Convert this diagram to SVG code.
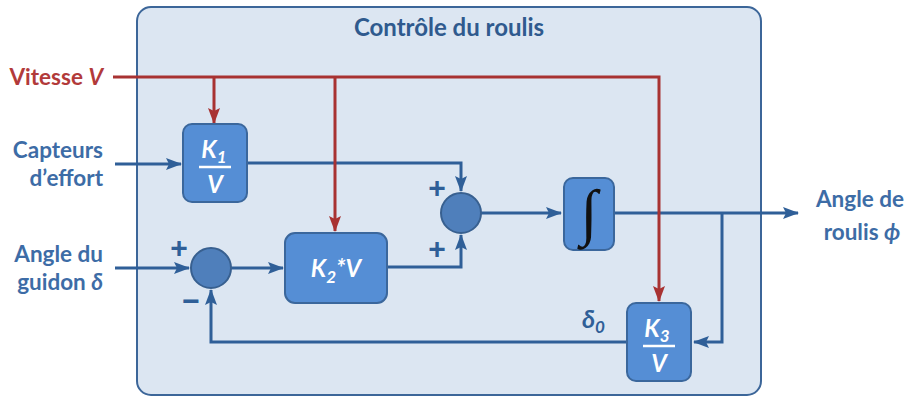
<svg xmlns="http://www.w3.org/2000/svg" width="909" height="400" viewBox="0 0 909 400">
<defs>
<style>
.lbl{font-family:Lato,"Open Sans","Liberation Sans",sans-serif;font-weight:bold;font-size:22.5px;fill:#3d6ca6}
.red{fill:#b23a3a}
.box{fill:#558ed5;stroke:#3b679c;stroke-width:2}
.sum{fill:#4f7fbb;stroke:#386090;stroke-width:2}
.bt{font-family:Lato,"Open Sans","Liberation Sans",sans-serif;font-weight:bold;font-style:italic;font-size:24px;fill:#ffffff}
.sign{font-family:"Liberation Sans",sans-serif;font-weight:bold;font-size:30px;fill:#2f5f98}
.bl{fill:none;stroke:#2f5f98;stroke-width:3}
.rl{fill:none;stroke:#a83232;stroke-width:3}
</style>
<marker id="ab" markerUnits="userSpaceOnUse" markerWidth="16" markerHeight="16" viewBox="0 0 16 16" refX="15" refY="8" orient="auto"><path d="M0,2 L16,8 L0,14 L3,8 Z" fill="#2f5f98"/></marker>
<marker id="ar" markerUnits="userSpaceOnUse" markerWidth="16" markerHeight="16" viewBox="0 0 16 16" refX="15" refY="8" orient="auto"><path d="M0,2 L16,8 L0,14 L3,8 Z" fill="#a83232"/></marker>
</defs>
<rect width="909" height="400" fill="#ffffff"/>
<g id="container">
<rect x="137" y="7" width="624" height="388" rx="14" fill="#dce6f2" stroke="#3c6699" stroke-width="2"/>
<text x="449" y="36" text-anchor="middle" class="lbl" style="fill:#2f5a8e;font-size:24px">Contrôle du roulis</text>
</g>
<g id="inputs">
<text x="103" y="85" text-anchor="end" class="lbl red">Vitesse <tspan font-style="italic">V</tspan></text>
<text x="103" y="158" text-anchor="end" class="lbl">Capteurs</text>
<text x="103" y="186" text-anchor="end" class="lbl">d’effort</text>
<text x="103" y="262" text-anchor="end" class="lbl">Angle du</text>
<text x="103" y="290" text-anchor="end" class="lbl">guidon <tspan font-style="italic">δ</tspan></text>
<text x="860" y="207" text-anchor="middle" class="lbl">Angle de</text>
<text x="862" y="240" text-anchor="middle" class="lbl">roulis <tspan font-style="italic">ϕ</tspan></text>
</g>
<g id="connectors">
<path class="bl" d="M115 164 H181" marker-end="url(#ab)"/>
<path class="bl" d="M247 163 H461 V191" marker-end="url(#ab)"/>
<path class="bl" d="M115 268 H189" marker-end="url(#ab)"/>
<path class="bl" d="M231 268 H283" marker-end="url(#ab)"/>
<path class="bl" d="M387 267 H461 V235" marker-end="url(#ab)"/>
<path class="bl" d="M481 213 H561" marker-end="url(#ab)"/>
<path class="bl" d="M614 213 H798" marker-end="url(#ab)"/>
<path class="bl" d="M722 213 V342 H694" marker-end="url(#ab)"/>
<path class="bl" d="M627 342 H211 V290" marker-end="url(#ab)"/>
<path class="rl" d="M113 77 H659 V301" marker-end="url(#ar)"/>
<path class="rl" d="M214 77 V123" marker-end="url(#ar)"/>
<path class="rl" d="M335 77 V231" marker-end="url(#ar)"/>
</g>
<g id="k1">
<rect class="box" x="183" y="124" width="64" height="78" rx="9"/>
<text x="214" y="158" text-anchor="middle" class="bt">K<tspan font-size="17" dy="5">1</tspan></text>
<line x1="199" y1="167" x2="231" y2="167" stroke="#ffffff" stroke-width="2.5"/>
<text x="215" y="193" text-anchor="middle" class="bt">V</text>
</g>
<g id="sum1">
<circle class="sum" cx="211" cy="268" r="20"/>
<text x="179" y="258" text-anchor="middle" class="sign">+</text>
<text x="191" y="311" text-anchor="middle" class="sign">−</text>
</g>
<g id="k2">
<rect class="box" x="285" y="233" width="102" height="70" rx="10"/>
<text x="336" y="277" text-anchor="middle" class="bt">K<tspan font-size="17" dy="6">2</tspan><tspan dy="-6">*V</tspan></text>
</g>
<g id="sum2">
<circle class="sum" cx="461" cy="213" r="20"/>
<text x="437" y="198" text-anchor="middle" class="sign">+</text>
<text x="437" y="259" text-anchor="middle" class="sign">+</text>
</g>
<g id="integrator">
<rect class="box" x="564" y="178" width="50" height="72" rx="9"/>
<text x="589" y="233" text-anchor="middle" font-family="'Liberation Serif',serif" font-style="italic" font-size="62" fill="#111111">∫</text>
</g>
<g id="k3">
<rect class="box" x="627" y="303" width="64" height="78" rx="9"/>
<text x="657" y="337" text-anchor="middle" class="bt">K<tspan font-size="17" dy="5">3</tspan></text>
<line x1="643" y1="346" x2="675" y2="346" stroke="#ffffff" stroke-width="2.5"/>
<text x="659" y="372" text-anchor="middle" class="bt">V</text>
<text x="582" y="328" class="bt" style="fill:#2f5f98;font-size:25px">δ<tspan font-size="17" dy="5">0</tspan></text>
</g>
</svg>
